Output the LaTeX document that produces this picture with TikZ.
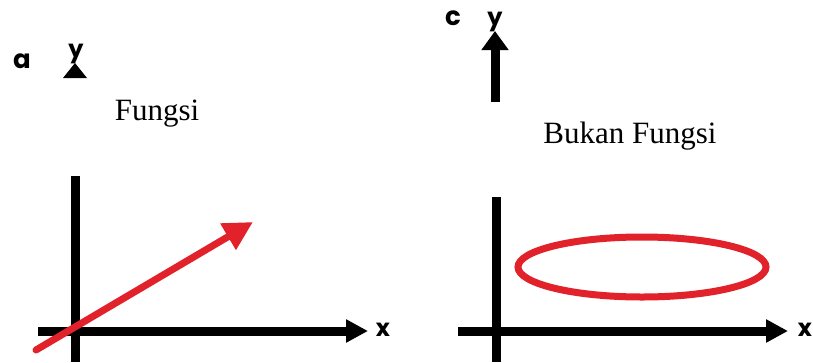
\documentclass[tikz,border=0pt]{standalone}
\usepackage{fontspec}
\setmainfont{Liberation Serif}
\newfontfamily\geofont{Poppins}
\usetikzlibrary{arrows.meta}
\definecolor{graphred}{HTML}{E2222A}

\begin{document}
\begin{tikzpicture}[x=1pt,y=-1pt,
  axis/.style={line width=9pt},
  axisarrow/.style={axis,-{Triangle[length=22pt,width=22pt]}},
  graph/.style={graphred,line width=7pt},
  lbl/.style={font=\geofont\bfseries\fontsize{24}{26}\selectfont,inner sep=0pt},
  panel/.style={font=\geofont\bfseries\fontsize{26}{28}\selectfont,inner sep=0pt,anchor=base},
  title/.style={font=\fontsize{31}{36}\selectfont,inner sep=0pt,anchor=base}]
\useasboundingbox (0,0) rectangle (813,362);
% panel a
\node[panel] (pa) at (22,68) {a};
\node[lbl,anchor=base] (ya) at (76,57) {y};
\fill (75,63) -- (87,78) -- (63,78) -- cycle;
\node[title] (fa) at (157,120) {Fungsi};
\coordinate (ayb) at (75,176);
\coordinate (ayt) at (75,362);
\coordinate (axl) at (38,331);
\coordinate (axr) at (368,331);
\draw[axis] (ayb) -- (ayt);
\draw[axisarrow] (axl) -- (axr);
\node[lbl] (xa) at (383,330) {x};
\coordinate (ls) at (36,350);
\coordinate (le) at (253,222);
\draw[graph,line cap=round,-{Triangle[length=29pt,width=29pt]}] (ls) -- (le);
% panel c
\node[panel] (pc) at (453,25) {c};
\node[lbl,anchor=base] (yc) at (495,25) {y};
\coordinate (cyb) at (495,102);
\coordinate (cyt) at (495,31);
\draw[axis,-{Triangle[length=19pt,width=26pt]}] (cyb) -- (cyt);
\node[title] (fc) at (630,143) {Bukan Fungsi};
\coordinate (ozb) at (496,197);
\coordinate (ozt) at (496,362);
\coordinate (oxl) at (458,331);
\coordinate (oxr) at (788,331);
\draw[axis] (ozb) -- (ozt);
\draw[axisarrow] (oxl) -- (oxr);
\node[lbl] (xc) at (805,330) {x};
\draw[graph] (642,267) ellipse [x radius=124, y radius=30];
\end{tikzpicture}
\end{document}
